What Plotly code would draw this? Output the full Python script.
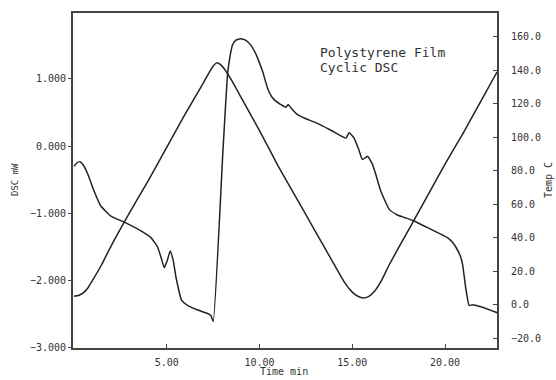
import plotly.graph_objects as go

# Temperature program (Temp C vs Time min)
temp_time = [0.0, 0.25, 0.5, 0.75, 1.0, 1.5, 2.0, 3.0, 4.0, 5.0, 6.0, 7.0, 7.3, 7.5, 7.7,
             7.9, 8.1, 8.5, 9.0, 10.0, 11.0, 12.0, 13.0, 14.0, 14.6, 15.0, 15.3, 15.6,
             15.9, 16.2, 16.6, 17.0, 18.0, 19.0, 20.0, 21.0, 22.0, 22.8]
temp_c = [5, 5.5, 7, 10, 14.5, 24, 35, 55, 74, 94, 114, 133, 139, 142.5, 144.5,
          143.5, 141, 134, 124, 104, 83, 63.5, 44, 24.5, 13, 7.5, 5, 4,
          5, 8, 15, 24, 44, 64, 84, 103, 123, 139]

# DSC heat flow (mW vs Time min)
dsc_time = [0.00, 0.15, 0.32, 0.50, 0.74, 1.09, 1.45, 1.99, 2.71, 3.61, 4.15, 4.51, 4.70,
            4.87, 5.03, 5.19, 5.35, 5.50, 5.80, 6.12, 6.60, 7.20, 7.38, 7.51, 8.03, 8.28,
            8.42, 8.55, 8.73, 9.00, 9.27, 9.54, 9.72, 9.90, 10.17, 10.44, 10.65, 10.88,
            11.15, 11.42, 11.55, 11.70, 12.05, 12.41, 13.13, 13.90, 14.66, 14.83, 14.95,
            15.10, 15.35, 15.55, 15.82, 16.09, 16.30, 16.54, 16.99, 17.40, 17.80, 18.30,
            19.41, 20.13, 20.40, 20.58, 20.80, 20.94, 21.12, 21.30, 21.48, 21.93, 22.83]
dsc_mw = [-0.30, -0.25, -0.23, -0.28, -0.41, -0.67, -0.89, -1.04, -1.13, -1.26, -1.36, -1.50, -1.66,
          -1.81, -1.70, -1.56, -1.70, -1.95, -2.29, -2.37, -2.43, -2.49, -2.52, -2.61, -0.07, 1.07,
          1.35, 1.51, 1.58, 1.60, 1.575, 1.50, 1.42, 1.31, 1.11, 0.86, 0.74, 0.67,
          0.62, 0.58, 0.62, 0.57, 0.47, 0.42, 0.34, 0.23, 0.12, 0.20, 0.17,
          0.12, -0.05, -0.20, -0.15, -0.27, -0.45, -0.67, -0.94, -1.02, -1.06, -1.11,
          -1.26, -1.36, -1.43, -1.50, -1.62, -1.75, -2.12, -2.37, -2.36, -2.39, -2.48]

x_ticks = [5, 10, 15, 20]
dsc_ticks = [-3, -2, -1, 0, 1]
temp_ticks = [-20, 0, 20, 40, 60, 80, 100, 120, 140, 160]

FONT = "DejaVu Sans Mono"
INK = "#222222"
AX = "#444444"

fig = go.Figure()
fig.add_trace(go.Scatter(x=dsc_time, y=dsc_mw, mode="lines",
                         line=dict(color=INK, width=1.5, shape="spline", smoothing=0.4),
                         showlegend=False, yaxis="y"))
fig.add_trace(go.Scatter(x=temp_time, y=temp_c, mode="lines",
                         line=dict(color=INK, width=1.5, shape="spline", smoothing=0.5),
                         showlegend=False, yaxis="y2"))

fig.update_layout(
    width=556, height=380,
    margin=dict(l=73, r=59, t=11, b=32),
    paper_bgcolor="white", plot_bgcolor="white",
    font=dict(family=FONT, size=10, color="#333333"),
    xaxis=dict(range=[-0.05, 22.8], tickvals=x_ticks, tickformat=".2f",
               showgrid=False, zeroline=False, showline=True, linecolor=AX, linewidth=2,
               mirror=True, ticks="inside", ticklen=4, tickcolor=AX,
               ticklabelstandoff=4),
    yaxis=dict(range=[-3.003, 1.982], tickvals=dsc_ticks, tickformat=".3f",
               showgrid=False, zeroline=False, showline=True, linecolor=AX, linewidth=2,
               ticks="outside", ticklen=3, tickcolor=AX),
    yaxis2=dict(range=[-25.9, 174.3], tickvals=temp_ticks, tickformat=".1f",
                overlaying="y", side="right",
                showgrid=False, zeroline=False, showline=True, linecolor=AX, linewidth=2,
                ticks="inside", ticklen=4, tickcolor=AX, ticklabelstandoff=10),
)

annos = [
    dict(text="Polystyrene Film", x=318, y=51, size=13, angle=0, xanchor="left"),
    dict(text="Cyclic DSC", x=318, y=66, size=13, angle=0, xanchor="left"),
    dict(text="Time min", x=284, y=372, size=10, angle=0, xanchor="center"),
    dict(text="DSC mW", x=15, y=179, size=9, angle=-90, xanchor="center"),
    dict(text="Temp C", x=548, y=179, size=10, angle=-90, xanchor="center"),
]
for a in annos:
    fig.add_annotation(text=a["text"], xref="paper", yref="paper",
                       x=(a["x"] - 73) / (497 - 73), y=(348 - a["y"]) / (348 - 11),
                       xanchor=a["xanchor"], yanchor="middle", showarrow=False,
                       textangle=a["angle"],
                       font=dict(family=FONT, size=a["size"], color="#333333"))

fig.write_html("out.html", config={"displayModeBar": False},
               post_script="document.body.style.margin='0px';document.body.style.padding='0px';")
